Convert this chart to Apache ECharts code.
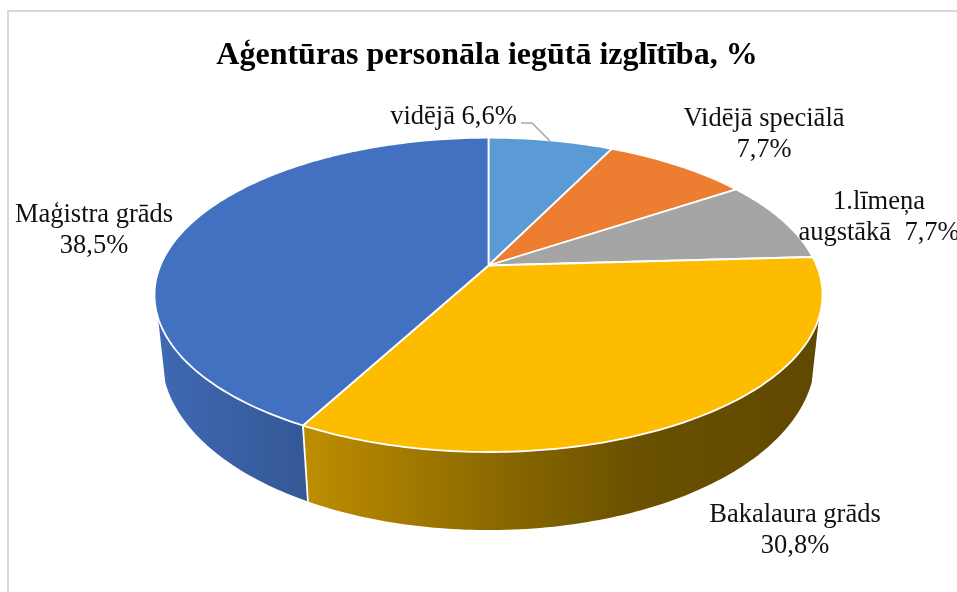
<!DOCTYPE html>
<html>
<head>
<meta charset="utf-8">
<style>html,body{margin:0;padding:0;background:#fff;overflow:hidden}#c{width:957px;height:592px}</style>
<script src="https://cdn.jsdelivr.net/npm/echarts@6/dist/echarts.min.js"></script>
</head>
<body>
<div id="c"></div>
<script>
const chartTitle = "Aģentūras personāla iegūtā izglītība, %";
const categories = ["vidējā", "Vidējā speciālā", "1.līmeņa\naugstākā", "Bakalaura grāds", "Maģistra grāds"];
const values = [6.6, 7.7, 7.7, 30.8, 38.5];
const separators = [" ", "\n", "  ", "\n", "\n"];
const colors = ["#5b9bd5", "#ed7d31", "#a5a5a5", "#fdbc00", "#4271c1"];

// Layout of the tilted disc
const cx = 488.5, apexY = 265.5, upBack = 127.8, downFront = 186.5, halfWidth = 334;
const p = (upBack - downFront) / (upBack + downFront);
const a = downFront * (1 + p);
const b = halfWidth * Math.sqrt(1 - p * p);
const vanishY = 3250;
const wallFrom = 108.8, wallTo = 251.2;
const labelSpots = [[453.5, 117], [764, 134.5], [879, 218], [795, 531], [94, 231]];
const wallFills = {
  3: [[0, "#bd8d00"], [0.36, "#8c6a00"], [0.65, "#6a5000"], [1, "#5f4800"]],
  4: [[0, "#4069b4"], [1, "#345795"]]
};
const wallSpan = { 3: [307, 820], 4: [156, 307] };

const total = values.reduce((s, x) => s + x, 0);
function topPoint(deg) {
  const r = deg * Math.PI / 180, u = Math.sin(r), v = -Math.cos(r), w = 1 + p * v;
  return [cx + b * u / w, apexY + a * v / w, v];
}
function bottomPoint(deg) {
  const q = topPoint(deg), t = 0.0195 + 0.0084 * q[2];
  return [q[0] + (cx - q[0]) * t, q[1] + (vanishY - q[1]) * t];
}
function arc(from, to, fn) {
  const out = [], n = Math.max(2, Math.ceil(Math.abs(to - from)));
  for (let i = 0; i <= n; i++) {
    const q = fn(from + (to - from) * i / n);
    out.push([q[0], q[1]]);
  }
  return out;
}
function labelText(i) {
  return categories[i] + separators[i] + values[i].toFixed(1).replace(".", ",") + "%";
}

function renderItem(params, api) {
  const i = params.dataIndex;
  let before = 0;
  for (let k = 0; k < i; k++) before += values[k];
  const start = before / total * 360, end = (before + api.value(0)) / total * 360;
  const children = [];
  const wf = Math.max(start, wallFrom), wt = Math.min(end, wallTo);
  if (wt > wf && wallFills[i]) {
    children.push({
      type: "polygon",
      silent: true,
      shape: { points: arc(wf, wt, topPoint).concat(arc(wt, wf, bottomPoint)) },
      style: { fill: new echarts.graphic.LinearGradient(wallSpan[i][0], 0, wallSpan[i][1], 0, wallFills[i].map(s => ({ offset: s[0], color: s[1] })), true), stroke: null }
    });
  }
  children.push({
    type: "polygon",
    silent: true,
    shape: { points: [[cx, apexY]].concat(arc(start, end, topPoint)) },
    style: { fill: colors[i], stroke: "#fff", lineWidth: 1.8, lineJoin: "round" }
  });
  if (i === values.length - 1) {
    const seam = topPoint(start), seamLow = bottomPoint(start);
    children.push({
      type: "line", silent: true,
      shape: { x1: seam[0], y1: seam[1], x2: seamLow[0], y2: seamLow[1] },
      style: { stroke: "#fff", lineWidth: 1.8 }
    });
  }
  if (i === 0) {
    children.push({
      type: "polyline", silent: true,
      shape: { points: [[521, 123], [532, 123], [550, 141]] },
      style: { stroke: "#a6a6a6", lineWidth: 1.6, fill: null }
    });
  }
  children.push({
    type: "text", silent: true,
    style: {
      x: labelSpots[i][0], y: labelSpots[i][1], text: labelText(i),
      align: "center", verticalAlign: "middle",
      font: '26.5px "Liberation Serif"', lineHeight: 31, fill: "#111"
    }
  });
  return { type: "group", children };
}

const chart = echarts.init(document.getElementById("c"), null, { renderer: "canvas" });
chart.setOption({
  animation: false,
  backgroundColor: "#fff",
  title: {
    text: chartTitle, left: 482, top: 35, textAlign: "center",
    textStyle: { fontFamily: "Liberation Serif", fontWeight: "bold", fontSize: 32, color: "#000" }
  },
  graphic: [{
    type: "polyline", silent: true,
    shape: { points: [[8, 600], [8, 11], [960, 11]] },
    style: { stroke: "#d9d9d9", lineWidth: 2, fill: null }
  }],
  series: [{
    type: "custom",
    coordinateSystem: "none",
    silent: true,
    renderItem,
    data: values.map((v, i) => ({ name: categories[i], value: [v] }))
  }]
});
</script>
</body>
</html>
